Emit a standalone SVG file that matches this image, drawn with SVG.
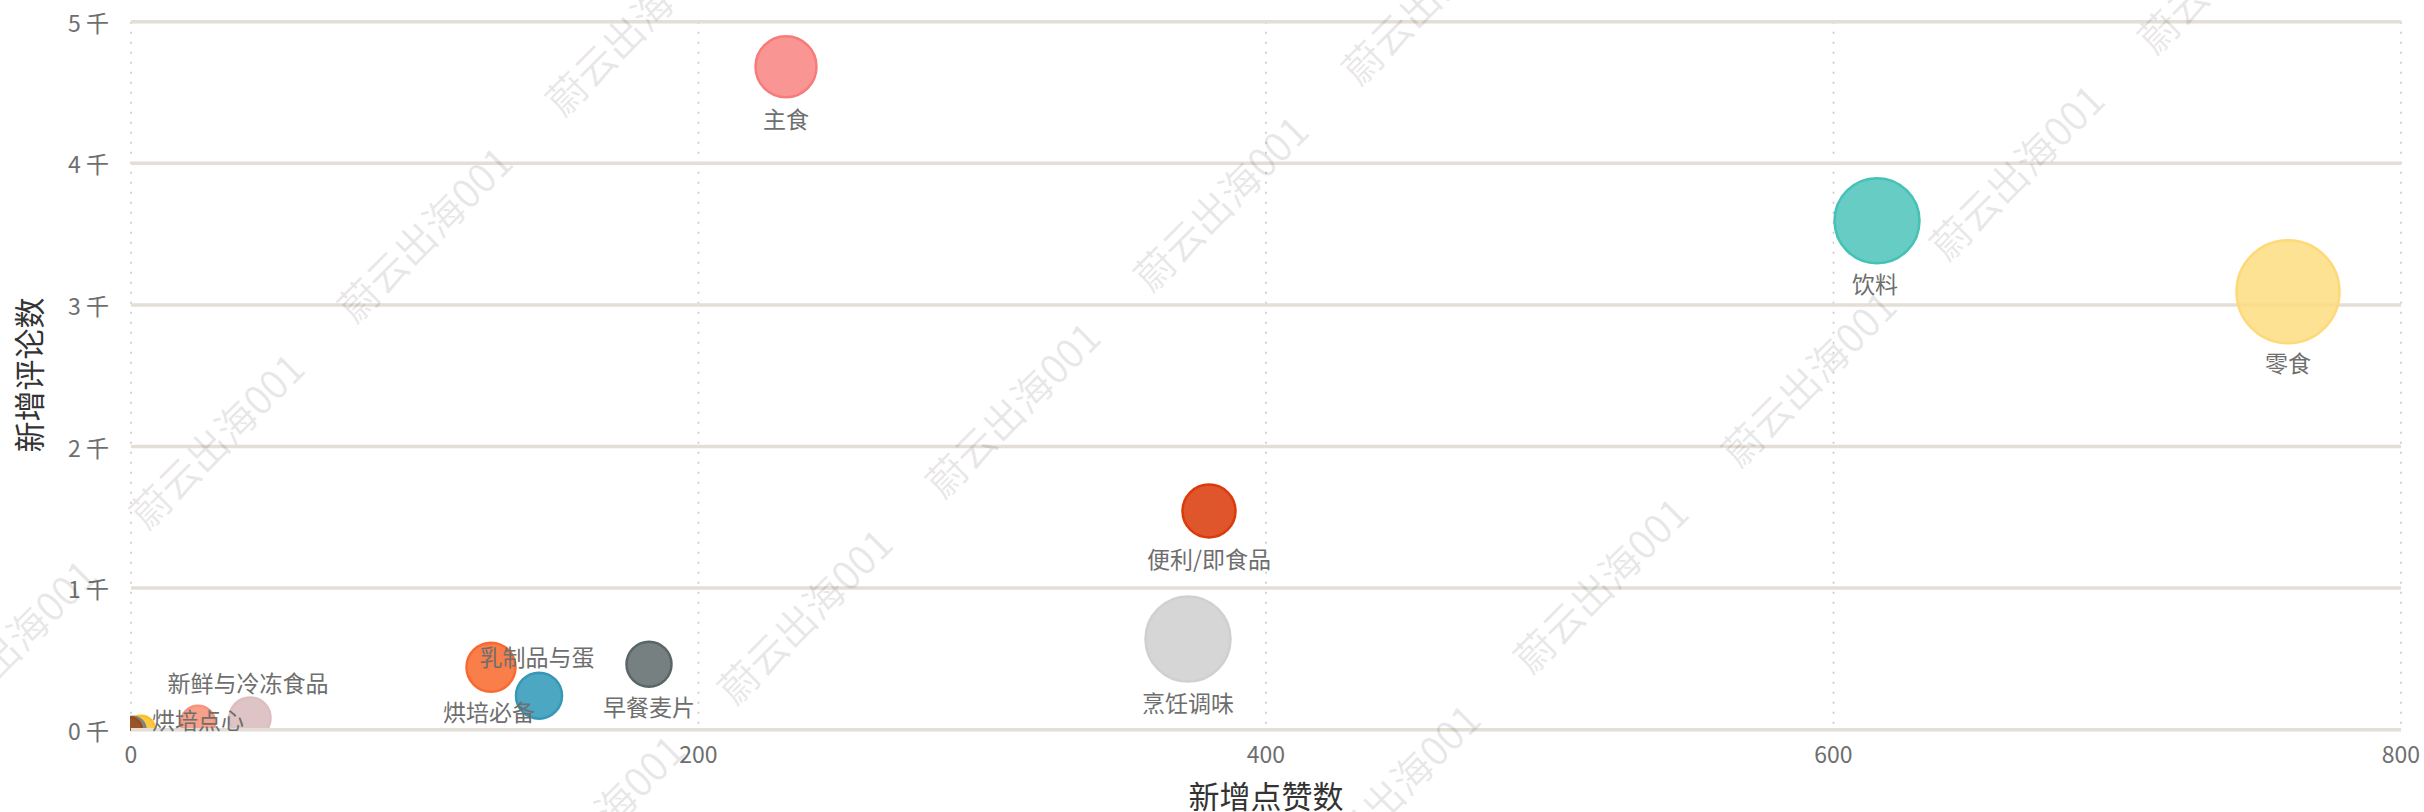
<svg xmlns="http://www.w3.org/2000/svg" width="2424" height="812" viewBox="0 0 2424 812">
  <defs>
    <style>
      .hgrid { stroke: #e3ded6; stroke-width: 3.5; fill: none; }
      .vgrid { stroke: #c8c8c8; stroke-width: 1.6; stroke-dasharray: 2 8; fill: none; }
      .tick { font-family: "Noto Sans CJK SC", "Noto Sans", sans-serif; font-size: 23px; fill: #6e6e6e; dominant-baseline: central; }
      .title { font-family: "Noto Sans CJK SC", "Noto Sans", sans-serif; font-size: 31px; fill: #333333; dominant-baseline: central; text-anchor: middle; }
      .lbl { font-family: "Noto Sans CJK SC", "Noto Sans", sans-serif; font-size: 23px; fill: #6e6e6e; dominant-baseline: central; text-anchor: middle; }
      .bub { stroke-width: 2.5; fill-opacity: 0.85; }
      .wm { font-family: "Noto Sans CJK SC", "Noto Sans", sans-serif; font-size: 40px; fill: #000000; fill-opacity: 0.09; }
    </style>
    <clipPath id="plotClip">
      <rect x="130" y="0" width="2294" height="731"/>
    </clipPath>
  </defs>
  <rect x="0" y="0" width="2424" height="812" fill="#ffffff"/>

  <g id="grid">
    <line class="vgrid" x1="131" y1="21.7" x2="131" y2="729.7"/>
    <line class="vgrid" x1="698.5" y1="21.7" x2="698.5" y2="729.7"/>
    <line class="vgrid" x1="1266" y1="21.7" x2="1266" y2="729.7"/>
    <line class="vgrid" x1="1833.5" y1="21.7" x2="1833.5" y2="729.7"/>
    <line class="vgrid" x1="2401" y1="21.7" x2="2401" y2="729.7"/>
    <line class="hgrid" x1="131" y1="21.7" x2="2401" y2="21.7"/>
    <line class="hgrid" x1="131" y1="163.3" x2="2401" y2="163.3"/>
    <line class="hgrid" x1="131" y1="304.9" x2="2401" y2="304.9"/>
    <line class="hgrid" x1="131" y1="446.5" x2="2401" y2="446.5"/>
    <line class="hgrid" x1="131" y1="588.1" x2="2401" y2="588.1"/>
  </g>

  <g id="axes">
    <text class="tick" x="109" y="21.7" text-anchor="end">5 千</text>
    <text class="tick" x="109" y="163.3" text-anchor="end">4 千</text>
    <text class="tick" x="109" y="304.9" text-anchor="end">3 千</text>
    <text class="tick" x="109" y="446.5" text-anchor="end">2 千</text>
    <text class="tick" x="109" y="588.1" text-anchor="end">1 千</text>
    <text class="tick" x="109" y="729.7" text-anchor="end">0 千</text>
    <text class="tick" x="131" y="753" text-anchor="middle">0</text>
    <text class="tick" x="698.5" y="753" text-anchor="middle">200</text>
    <text class="tick" x="1266" y="753" text-anchor="middle">400</text>
    <text class="tick" x="1833.5" y="753" text-anchor="middle">600</text>
    <text class="tick" x="2401" y="753" text-anchor="middle">800</text>
    <text class="title" x="1266" y="794">新增点赞数</text>
    <text class="title" transform="translate(27,375) rotate(-90)" x="0" y="0">新增评论数</text>
  </g>

  <g id="bubbles" clip-path="url(#plotClip)">
    <g id="node-misc-yellow"><circle class="bub" cx="141" cy="729.7" r="14" fill="#fcc024" stroke="#fcc024" fill-opacity="1"/></g>
    <g id="node-misc-gray"><circle class="bub" cx="132.5" cy="729.7" r="13" fill="#808080" stroke="#808080" fill-opacity="1"/></g>
    <g id="node-misc-brown"><circle class="bub" cx="129.5" cy="729.7" r="12.5" fill="#9a4a1c" stroke="#9a4a1c" fill-opacity="1"/></g>
    <g id="node-xinxian"><circle class="bub" cx="250" cy="718" r="20.5" fill="#d9babc" stroke="#dcbfc1"/></g>
    <g id="node-hongbeidianxin"><circle class="bub" cx="198" cy="722.7" r="17" fill="#f68f75" stroke="#f6947c"/></g>
    <g id="node-ruzhipin"><circle class="bub" cx="491" cy="667.3" r="24.5" fill="#f8672a" stroke="#f86a30"/></g>
    <g id="node-hongbeibibei"><circle class="bub" cx="539" cy="695.7" r="23" fill="#2b98b7" stroke="#3797b8"/></g>
    <g id="node-zaocan"><circle class="bub" cx="649" cy="664.3" r="22.5" fill="#5e6a6a" stroke="#5a6565"/></g>
    <g id="node-zhushi"><circle class="bub" cx="786" cy="66.7" r="30.5" fill="#f88280" stroke="#f77b7a"/></g>
    <g id="node-bianli"><circle class="bub" cx="1209" cy="511" r="26.5" fill="#d93707" stroke="#dd3a0a" fill-opacity="0.9"/></g>
    <g id="node-pengren"><circle class="bub" cx="1188" cy="639" r="42.5" fill="#cfcfcf" stroke="#d0d0d0"/></g>
    <g id="node-yinliao"><circle class="bub" cx="1877" cy="220.7" r="42.5" fill="#4bc3ba" stroke="#45c1b7"/></g>
    <g id="node-lingshi"><circle class="bub" cx="2288" cy="291.7" r="51.5" fill="#fddd80" stroke="#fdd978"/></g>
  </g>

  <g id="axis-line">
    <line class="hgrid" x1="131" y1="729.7" x2="2401" y2="729.7"/>
  </g>

  <g id="labels">
    <text class="lbl" x="248" y="681.7">新鲜与冷冻食品</text>
    <text class="lbl" x="198" y="719">烘培点心</text>
    <text class="lbl" x="537" y="656">乳制品与蛋</text>
    <text class="lbl" x="489" y="711">烘培必备</text>
    <text class="lbl" x="649" y="706">早餐麦片</text>
    <text class="lbl" x="786" y="117.5">主食</text>
    <text class="lbl" x="1209" y="558">便利/即食品</text>
    <text class="lbl" x="1188" y="702">烹饪调味</text>
    <text class="lbl" x="1875" y="283">饮料</text>
    <text class="lbl" x="2288" y="362">零食</text>
  </g>

  <g id="watermarks">
    <text class="wm" transform="translate(-60.5,738) rotate(-45)">蔚云出海001</text>
    <text class="wm" transform="translate(147.5,531.5) rotate(-45)">蔚云出海001</text>
    <text class="wm" transform="translate(355.5,325) rotate(-45)">蔚云出海001</text>
    <text class="wm" transform="translate(563.5,118.5) rotate(-45)">蔚云出海001</text>
    <text class="wm" transform="translate(527.5,913.5) rotate(-45)">蔚云出海001</text>
    <text class="wm" transform="translate(735.5,707) rotate(-45)">蔚云出海001</text>
    <text class="wm" transform="translate(943.5,500.5) rotate(-45)">蔚云出海001</text>
    <text class="wm" transform="translate(1151.5,294) rotate(-45)">蔚云出海001</text>
    <text class="wm" transform="translate(1359.5,87.5) rotate(-45)">蔚云出海001</text>
    <text class="wm" transform="translate(1323.5,882.5) rotate(-45)">蔚云出海001</text>
    <text class="wm" transform="translate(1531.5,676) rotate(-45)">蔚云出海001</text>
    <text class="wm" transform="translate(1739.5,469.5) rotate(-45)">蔚云出海001</text>
    <text class="wm" transform="translate(1947.5,263) rotate(-45)">蔚云出海001</text>
    <text class="wm" transform="translate(2155.5,56.5) rotate(-45)">蔚云出海001</text>
  </g>
</svg>
